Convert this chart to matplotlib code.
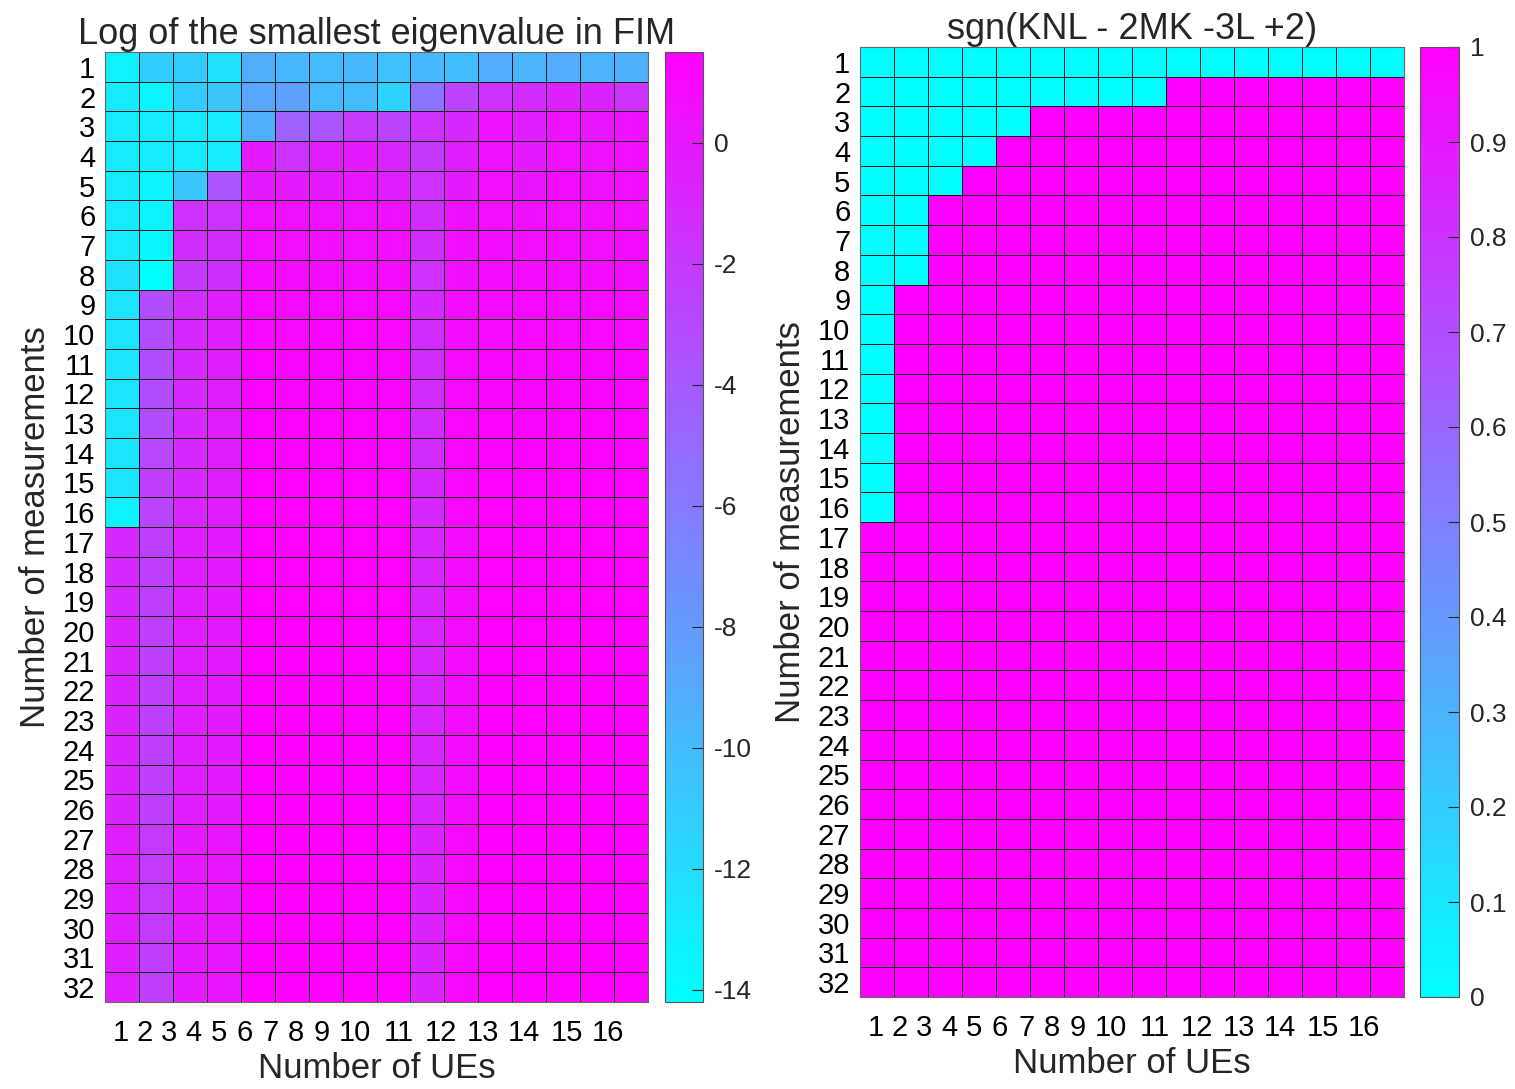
import numpy as np
import matplotlib
matplotlib.use("Agg")
import matplotlib.pyplot as plt

plt.rcParams['font.family'] = ['Liberation Sans', 'DejaVu Sans']
plt.rcParams['axes.unicode_minus'] = False

n_ues = list(range(1, 17))
n_meas = list(range(1, 33))

# where the UE labels sit under the grid in the original (they are packed
# like one line of text, not centred on the columns)
xtick_pos = [0.97, 1.68, 2.39, 3.12, 3.86, 4.62, 5.39, 6.13, 6.89, 7.87,
             9.16, 10.40, 11.64, 12.85, 14.11, 15.32]

# log of smallest eigenvalue, rows = measurements 1..32, cols = UEs 1..16
row_1 = [-13.3, -11.1, -11.1, -12.3, -9.2, -9.8, -10.0, -9.8, -10.3, -9.8, -10.1, -9.0, -9.6, -9.0, -9.5, -9.3]
row_2 = [-12.9, -13.4, -11.1, -10.6, -8.7, -8.4, -10.0, -10.0, -11.5, -5.6, -2.7, -1.6, -1.3, -0.55, -0.7, -1.6]
row_3 = [-12.9, -12.9, -12.9, -12.9, -9.2, -4.5, -3.7, -2.1, -2.7, -1.6, -1.0, 0.4, -0.4, 0.4, 0.1, 0.4]
row_4 = [-12.9, -12.9, -12.9, -12.9, -0.1, -1.6, -0.4, -0.1, -0.85, -1.95, -0.4, 0.4, -0.1, 0.56, 0.4, 0.56]
row_5 = [-12.9, -13.4, -10.6, -3.7, -0.1, -0.1, -0.1, 0.2, -0.4, -1.6, -0.1, 0.56, 0.2, 0.7, 0.4, 0.56]
row_6 = [-12.9, -13.4, -1.6, -1.6, 0.4, 0.4, 0.4, 0.4, 0.4, -1.3, 0.4, 0.56, 0.4, 0.56, 0.56, 0.56]
row_7 = [-12.9, -13.7, -1.3, -1.3, 0.56, 0.56, 0.56, 0.56, 0.56, -1.3, 0.56, 0.7, 0.56, 0.7, 0.56, 0.7]
row_8 = [-12.3, -14.2, -1.95, -1.5, 0.7, 0.7, 0.7, 0.7, 0.7, -1.6, 0.56, 0.7, 0.7, 0.7, 0.7, 0.7]
row_9 = [-12.5, -3.2, -1.3, -0.4, 0.9, 0.9, 0.9, 0.9, 0.9, -1.0, 0.7, 0.9, 0.9, 0.9, 0.9, 0.9]
row_10 = [-12.6, -3.2, -1.0, -0.4, 1.0, 1.0, 1.2, 1.2, 1.0, -1.2, 0.7, 1.0, 1.0, 1.0, 1.0, 1.0]
row_11 = [-12.6, -3.2, -1.0, -0.4, 1.2, 1.2, 1.2, 1.2, 1.2, -1.2, 0.9, 1.2, 1.0, 1.2, 1.2, 1.2]
row_12 = [-12.6, -3.2, -1.0, -0.4, 1.2, 1.2, 1.2, 1.2, 1.2, -1.2, 0.9, 1.2, 1.2, 1.2, 1.2, 1.2]
row_13 = [-12.6, -3.2, -1.0, -0.4, 1.3, 1.3, 1.3, 1.3, 1.3, -1.2, 1.0, 1.3, 1.2, 1.3, 1.3, 1.3]
row_14 = [-12.6, -2.9, -1.0, -0.4, 1.3, 1.3, 1.3, 1.3, 1.3, -1.2, 1.0, 1.3, 1.3, 1.3, 1.3, 1.3]
row_15 = [-12.6, -2.4, -1.0, -0.4, 1.4, 1.4, 1.4, 1.4, 1.4, -1.0, 1.0, 1.4, 1.3, 1.4, 1.4, 1.4]
row_16 = [-13.3, -2.7, -0.85, -0.4, 1.4, 1.4, 1.4, 1.4, 1.4, -1.0, 1.0, 1.4, 1.3, 1.4, 1.4, 1.4]
row_17 = [-1.0, -2.4, -0.4, -0.1, 1.4, 1.4, 1.4, 1.4, 1.4, -0.85, 0.7, 1.4, 1.3, 1.4, 1.4, 1.4]
row_18 = [-1.0, -2.4, -0.4, -0.1, 1.4, 1.4, 1.4, 1.4, 1.4, -0.85, 0.7, 1.4, 1.3, 1.4, 1.4, 1.4]
row_19 = [-1.0, -2.4, -0.4, -0.1, 1.4, 1.4, 1.4, 1.4, 1.4, -0.85, 0.7, 1.4, 1.3, 1.4, 1.4, 1.4]
row_20 = [-0.7, -2.4, -0.4, -0.1, 1.5, 1.5, 1.5, 1.5, 1.5, -0.85, 0.7, 1.5, 1.4, 1.5, 1.5, 1.5]
row_21 = [-0.7, -2.4, -0.4, -0.1, 1.5, 1.5, 1.5, 1.5, 1.5, -0.85, 0.7, 1.5, 1.4, 1.5, 1.5, 1.5]
row_22 = [-0.7, -2.4, -0.4, -0.1, 1.5, 1.5, 1.5, 1.5, 1.5, -0.85, 0.7, 1.5, 1.4, 1.5, 1.5, 1.5]
row_23 = [-0.7, -2.4, -0.4, -0.1, 1.5, 1.5, 1.5, 1.5, 1.5, -0.85, 0.7, 1.5, 1.4, 1.5, 1.5, 1.5]
row_24 = [-0.7, -2.4, -0.4, -0.1, 1.5, 1.5, 1.5, 1.5, 1.5, -0.85, 0.7, 1.5, 1.4, 1.5, 1.5, 1.5]
row_25 = [-0.7, -2.4, -0.4, -0.1, 1.5, 1.5, 1.5, 1.5, 1.5, -0.85, 0.7, 1.5, 1.4, 1.5, 1.5, 1.5]
row_26 = [-0.7, -2.4, -0.4, -0.1, 1.5, 1.5, 1.5, 1.5, 1.5, -0.85, 0.7, 1.5, 1.4, 1.5, 1.5, 1.5]
row_27 = [-0.4, -2.1, -0.1, 0.2, 1.5, 1.5, 1.5, 1.5, 1.5, -0.7, 0.9, 1.5, 1.5, 1.5, 1.5, 1.5]
row_28 = [-0.4, -2.1, -0.1, 0.2, 1.5, 1.5, 1.5, 1.5, 1.5, -0.7, 0.9, 1.5, 1.5, 1.5, 1.5, 1.5]
row_29 = [-0.4, -2.1, -0.1, 0.2, 1.5, 1.5, 1.5, 1.5, 1.5, -0.7, 0.9, 1.5, 1.5, 1.5, 1.5, 1.5]
row_30 = [-0.4, -2.1, -0.1, 0.2, 1.5, 1.5, 1.5, 1.5, 1.5, -0.7, 0.9, 1.5, 1.5, 1.5, 1.5, 1.5]
row_31 = [-0.4, -2.4, -0.1, 0.2, 1.5, 1.5, 1.5, 1.5, 1.5, -0.7, 0.9, 1.5, 1.5, 1.5, 1.5, 1.5]
row_32 = [-0.4, -2.4, -0.1, 0.2, 1.5, 1.5, 1.5, 1.5, 1.5, -0.7, 0.9, 1.5, 1.5, 1.5, 1.5, 1.5]

eig_rows = [row_1, row_2, row_3, row_4, row_5, row_6, row_7, row_8,
            row_9, row_10, row_11, row_12, row_13, row_14, row_15, row_16,
            row_17, row_18, row_19, row_20, row_21, row_22, row_23, row_24,
            row_25, row_26, row_27, row_28, row_29, row_30, row_31, row_32]

# number of UEs (from the left) where the sign is 0, per measurement row
cyan_count = [16, 9, 5, 4, 3, 2, 2, 2, 1, 1, 1, 1, 1, 1, 1, 1,
              0, 0, 0, 0, 0, 0, 0, 0, 0, 0, 0, 0, 0, 0, 0, 0]

eig = np.array(eig_rows)
sgn = np.ones((len(n_meas), len(n_ues)))
for i, c in enumerate(cyan_count):
    sgn[i, :c] = 0

W, H = 1515, 1089
fig = plt.figure(figsize=(W / 100, H / 100), dpi=100)

def box(x0, x1, y0, y1):
    return [x0 / W, 1 - y1 / H, (x1 - x0) / W, (y1 - y0) / H]

def heat(ax, cax, data, vmin, vmax, title, cticks):
    xe = np.arange(len(n_ues) + 1) + 0.5
    ye = np.arange(len(n_meas) + 1) + 0.5
    m = ax.pcolormesh(xe, ye, data, cmap='cool', vmin=vmin, vmax=vmax,
                      edgecolors='#1a1a1a', linewidth=0.55)
    ax.set_xlim(0.5, len(n_ues) + 0.5)
    ax.set_ylim(len(n_meas) + 0.5, 0.5)
    ax.set_xticks(xtick_pos)
    ax.set_xticklabels([str(u) for u in n_ues])
    ax.set_yticks(n_meas)
    ax.tick_params(length=0, labelsize=21, pad=7)
    ax.tick_params(axis='x', pad=12)
    ax.set_xlabel('Number of UEs', fontsize=25, labelpad=4, color='#262626')
    ax.set_ylabel('Number of measurements', fontsize=25, labelpad=8,
                  color='#262626')
    ax.set_title(title, fontsize=26, pad=5, color='#262626')
    for s in ax.spines.values():
        s.set_color('#666666')
    cb = fig.colorbar(m, cax=cax, ticks=cticks)
    cb.ax.tick_params(direction='in', length=8, labelsize=19, pad=8,
                      colors='#262626')
    cb.outline.set_edgecolor('#555555')
    return cb

ax1 = fig.add_axes(box(105, 648, 52, 1002))
cax1 = fig.add_axes(box(665, 703, 52, 1002))
heat(ax1, cax1, eig, -14.2, 1.5, 'Log of the smallest eigenvalue in FIM',
     [-14, -12, -10, -8, -6, -4, -2, 0])

ax2 = fig.add_axes(box(860, 1404, 47, 997))
cax2 = fig.add_axes(box(1420, 1459, 47, 997))
cb2 = heat(ax2, cax2, sgn, 0, 1, 'sgn(KNL - 2MK -3L +2)',
           [0, 0.1, 0.2, 0.3, 0.4, 0.5, 0.6, 0.7, 0.8, 0.9, 1])
cb2.ax.set_yticklabels(['0', '0.1', '0.2', '0.3', '0.4', '0.5', '0.6',
                        '0.7', '0.8', '0.9', '1'])

fig.savefig('out.png', dpi=100)
